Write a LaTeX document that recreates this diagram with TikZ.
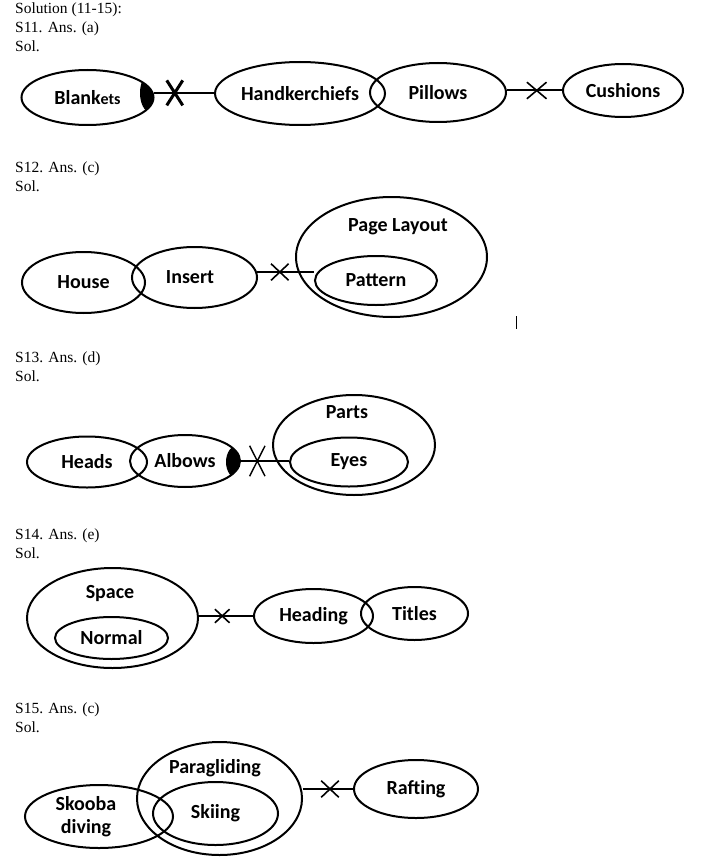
\documentclass[tikz,border=0pt]{standalone}
\usepackage{fontspec}
\setmainfont{Liberation Serif}
\setsansfont{Carlito}
\usetikzlibrary{shapes.geometric,shapes.misc,positioning}

\begin{document}
\begin{tikzpicture}[x=1pt, y=-1pt,
% Set style
		set/.style={ellipse
							    , draw=black, line width=2pt
							    , inner sep=0pt
							    , font=\sffamily\bfseries\fontsize{20}{23}\selectfont},
		word/.style={font=\sffamily\bfseries\fontsize{20}{23}\selectfont
							    , inner sep=0pt
							    , align=center},
		head/.style={font=\fontsize{15.5}{19}\selectfont
							    , anchor=base west
							    , inner sep=0pt},
% Links and crosses
		link/.style={line width=2pt},
		nope/.style={cross out
							    , draw=black, line width=1.6pt
							    , minimum width=16pt, minimum height=15pt
							    , inner sep=0pt}
	]
	\useasboundingbox (0,0) rectangle (705,864);

%% S11
	\node [head] (t0) at (15,14) {Solution (11-15):};
	\node [head] (t11) at (15,33) {S11. Ans. (a)};
	\node [head] (s11) at (15,52) {Sol.};
	\begin{scope}
		\clip (87.5,97.5) ellipse [x radius=66, y radius=27.5];
		\fill (150,93) ellipse [x radius=10, y radius=19];
	\end{scope}
	\node [set, minimum width=132pt, minimum height=55pt] (blankets) at (87.5,97.5)
	  {Blank{\fontsize{16}{18}\selectfont ets}};
	\node [set, minimum width=170pt, minimum height=63pt] (hand) at (300,93.5) {Handkerchiefs};
	\node [set, minimum width=136pt, minimum height=59pt] (pillows) at (438,92.5) {Pillows};
	\node [set, minimum width=120pt, minimum height=53pt] (cushions) at (623,90.5) {Cushions};
	\draw [link] (blankets.4) -- node [nope, pos=0.35, line width=3pt
	  , minimum width=13pt, minimum height=22pt] (x11a) {} (blankets.4 -| hand.west);
	\draw [link] (cushions.west -| pillows.east) -- node [nope, pos=0.54, minimum width=18pt] (x11b) {} (cushions.west);

%% S12
	\node [head] (t12) at (15,172) {S12. Ans. (c)};
	\node [head] (s12) at (15,191) {Sol.};
	\node [set, minimum width=123pt, minimum height=61pt] (house) at (83.5,282.5) {House};
	\node [set, minimum width=125pt, minimum height=61pt] (insert) at (194.5,277.5) {};
	\node [word] (insertw) at (190,277) {Insert};
	\node [set, minimum width=191pt, minimum height=120pt] (layout) at (391.5,257) {};
	\node [word] (layoutw) at (398,227) {Page Layout};
	\node [set, minimum width=122pt, minimum height=49pt] (pattern) at (376,280.5) {Pattern};
	\draw [link] (insert.5) -- node [nope, pos=0.40] (x12) {} (insert.5 -| pattern.west);
	\draw [line width=1pt] (516,316) -- (516,329);

%% S13
	\node [head] (t13) at (15,362) {S13. Ans. (d)};
	\node [head] (s13) at (15,381) {Sol.};
	\begin{scope}
		\clip (185,461) ellipse [x radius=55, y radius=26];
		\fill (238,462) ellipse [x radius=12, y radius=17];
	\end{scope}
	\node [set, minimum width=120pt, minimum height=51pt] (heads) at (87,462) {Heads};
	\node [set, minimum width=110pt, minimum height=52pt] (albows) at (185,461) {Albows};
	\node [set, minimum width=162pt, minimum height=100pt] (parts) at (354,445) {};
	\node [word] (partsw) at (347,412) {Parts};
	\node [set, minimum width=118pt, minimum height=49pt] (eyes) at (349,462) {Eyes};
	\draw [link] (albows.east) -- node [nope, pos=0.34, line width=1.4pt
	  , minimum width=14pt, minimum height=29pt] (x13) {} (albows.east -| eyes.west);

%% S14
	\node [head] (t14) at (15,539) {S14. Ans. (e)};
	\node [head] (s14) at (15,558) {Sol.};
	\node [set, minimum width=171pt, minimum height=100pt] (space) at (112.5,618) {};
	\node [word] (spacew) at (110,594) {Space};
	\node [set, minimum width=113pt, minimum height=42pt] (normal) at (111.5,638) {Normal};
	\node [set, minimum width=119pt, minimum height=54pt] (heading) at (313.5,616) {Heading};
	\node [set, minimum width=107pt, minimum height=53pt] (titles) at (414.5,613.5) {Titles};
	\draw [link] (heading.west -| space.east) -- node [nope, pos=0.43, minimum width=13pt, minimum height=12pt] (x14) {} (heading.west);

%% S15
	\node [head] (t15) at (15,713) {S15. Ans. (c)};
	\node [head] (s15) at (15,732) {Sol.};
	\node [set, minimum width=165pt, minimum height=113pt] (para) at (219.5,798.5) {};
	\node [word] (paraw) at (215,768) {Paragliding};
	\node [set, minimum width=125pt, minimum height=63pt] (skiing) at (215.5,813.5) {Skiing};
	\node [set, minimum width=148pt, minimum height=63pt] (skooba) at (99,816.5) {};
	\node [word] (skoobaw) at (86,817) {Skooba\\diving};
	\node [set, minimum width=124pt, minimum height=58pt] (rafting) at (416,789) {Rafting};
	\draw [link] (rafting.west -| para.east) -- node [nope, pos=0.54] (x15) {} (rafting.west);
\end{tikzpicture}
\end{document}
